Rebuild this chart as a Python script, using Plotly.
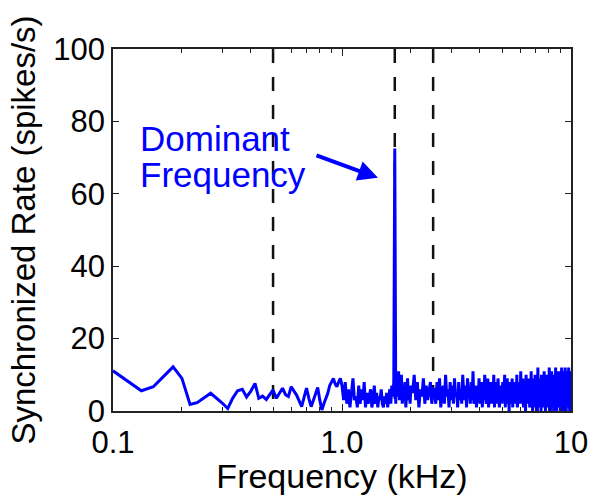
import math
import plotly.graph_objects as go

# --- spectrum data -------------------------------------------------------
# Sparse low-frequency bins (kHz) and synchronized rate (spikes/s)
low_freq_khz = [0.100, 0.133, 0.150, 0.183, 0.200, 0.217, 0.233, 0.267, 0.300, 0.317,
                0.333, 0.350, 0.367, 0.383, 0.400, 0.417, 0.433, 0.450, 0.467, 0.483]
low_rate = [11.1, 5.6, 6.7, 12.2, 9.0, 1.8, 2.3, 4.9, 2.2, 0.7,
            3.5, 5.6, 6.0, 3.9, 5.5, 7.6, 3.5, 4.1, 3.2, 4.5]

# 0.5 - 1.0 kHz, one bin every 1/60 kHz
mid_start_khz = 0.5
mid_step_khz = 1 / 60
mid_rate = [5.8, 3.5, 5.0, 6.3, 4.5, 4.0, 6.7, 5.5, 4.4, 2.8,
            1.2, 3.8, 6.3, 3.5, 1.2, 3.0, 5.0, 6.5, 3.0, 0.3,
            2.0, 3.5, 4.9, 7.0, 8.0, 9.0, 7.5, 6.7, 8.0, 9.0, 7.0]

# 1.0 - 2.0 kHz, one bin every 1/60 kHz (first bin just above 1.0 kHz)
band1_start_khz = 1.0
band1_step_khz = 1 / 60
band1_rate = [3, 8, 2, 6, 1, 5, 9, 3, 4, 1, 7, 2, 6, 3, 8, 1, 5, 2, 4, 6,
              1, 3, 7, 2, 5, 1, 4, 3, 6, 2, 1, 4, 2, 5, 1, 3, 6, 2, 7, 4, 8,
              72.5,
              2, 9, 4, 11, 3, 7, 10, 2, 6, 4, 8, 1, 5, 9, 3, 6, 2, 7]

# 2.0 - 10 kHz, one bin every 1/30 kHz (first bin just above 2.0 kHz)
band2_start_khz = 2.0
band2_step_khz = 1 / 30
band2_rate = [5, 10, 3, 8, 1, 6, 4, 9, 2, 7, 3, 5, 8, 2, 6,
              6, 2, 8, 3, 9, 1, 5, 7, 2, 10, 4, 6, 1, 8, 3,
              7, 2, 9, 4, 5, 1, 8, 3, 6, 2, 10, 5, 3, 7, 1,
              9, 4, 6, 2, 8, 3, 11, 2, 5, 7, 1, 6, 3, 9, 2,
              5, 8, 1, 7, 3, 10, 4, 2, 6, 9, 1, 5, 3, 8, 2,
              7, 4, 10, 1, 6, 3, 8, 2, 9, 5, 1, 7, 4, 6, 2,
              8, 3, 5, 10, 1, 7, 2, 9, 4, 6, 0, 8, 3, 5, 2,
              9, 1, 6, 4, 8, 2, 7, 3, 10, 1, 5, 8, 2, 6, 3,
              11, 2, 7, 4, 9, 1, 6, 3, 8, 0, 10, 4, 5, 2, 9,
              3, 7, 1, 8, 4, 11, 2, 6, 0, 9, 3, 7, 1, 10, 4,
              6, 2, 8, 0, 12, 3, 7, 1, 9, 4, 5, 0, 10, 2, 8,
              3, 6, 1, 11, 4, 9, 0, 7, 2, 10, 3, 8, 1, 6, 4,
              12, 2, 9, 0, 7, 3, 11, 1, 8, 4, 10, 0, 6, 3, 9,
              1, 12, 4, 7, 0, 10, 2, 8, 3, 11, 1, 9, 4, 6, 0,
              10, 3, 12, 1, 8, 2, 11, 0, 7, 4, 9, 1, 12, 3, 8,
              0, 10, 4, 11, 2, 9, 1, 12, 3, 7, 0, 11, 2, 10, 5]

# Reference frequencies marked with dashed lines (kHz)
marker_freqs_khz = [0.5, 1.7, 2.5]

# Axis ticks
x_tick_vals = [0.1, 1, 10]
x_tick_text = ["0.1", "1.0", "10"]
x_minor_vals = [0.2, 0.3, 0.4, 0.5, 0.6, 0.7, 0.8, 0.9, 2, 3, 4, 5, 6, 7, 8, 9]
y_tick_vals = [0, 20, 40, 60, 80, 100]

# --- assemble the frequency grid ------------------------------------------
freq_khz = list(low_freq_khz)
freq_khz += [mid_start_khz + j * mid_step_khz for j in range(len(mid_rate))]
freq_khz += [band1_start_khz + (j + 1) * band1_step_khz for j in range(len(band1_rate))]
freq_khz += [band2_start_khz + (j + 1) * band2_step_khz for j in range(len(band2_rate))]
rate = low_rate + mid_rate + band1_rate + band2_rate

FONT = "Liberation Sans, Arial, Helvetica, sans-serif"
BLUE = "#0000ff"

fig = go.Figure()

for f in marker_freqs_khz:
    fig.add_trace(go.Scatter(
        x=[f, f], y=[100, 0], mode="lines",
        line=dict(color="#111111", width=2.5, dash="14px,14px"),
        hoverinfo="skip", showlegend=False,
    ))

fig.add_trace(go.Scatter(
    x=freq_khz, y=rate, mode="lines",
    line=dict(color=BLUE, width=3),
    showlegend=False,
))

axis_common = dict(
    showline=True, linecolor="#222222", linewidth=1.5, mirror="ticks",
    ticks="inside", tickcolor="#222222", tickwidth=1.3,
    showgrid=False, zeroline=False, automargin=False,
    tickfont=dict(family=FONT, size=31, color="black"),
)

fig.update_xaxes(
    type="log", range=[-1, 1],
    tickmode="array", tickvals=x_tick_vals, ticktext=x_tick_text, ticklen=7,
    ticklabelstandoff=3,
    minor=dict(tickmode="array", tickvals=x_minor_vals, ticks="inside", ticklen=4,
               tickcolor="#222222", tickwidth=1.2),
    title=dict(text="Frequency (kHz)", font=dict(family=FONT, size=34, color="black"),
               standoff=2),
    **axis_common,
)
fig.update_yaxes(
    range=[0, 100], tickmode="array", tickvals=y_tick_vals, ticklen=6,
    title=dict(text="Synchronized Rate (spikes/s)",
               font=dict(family=FONT, size=33, color="black"), standoff=8),
    **axis_common,
)

# Label and arrow pointing at the dominant spectral peak
for text, yv in [("Dominant", 75.3), ("Frequency", 65.4)]:
    fig.add_annotation(
        x=math.log10(0.1285), y=yv, xref="x", yref="y",
        text=text, showarrow=False, xanchor="left", yanchor="middle",
        font=dict(family=FONT, size=35, color=BLUE),
    )
fig.add_annotation(
    x=math.log10(1.436), y=64.4, xref="x", yref="y",
    text="", showarrow=True, ax=-63, ay=-23,
    arrowhead=2, arrowsize=1.0, arrowwidth=4, arrowcolor=BLUE,
)

fig.update_layout(
    width=589, height=495,
    margin=dict(l=113, r=18, t=49, b=84, autoexpand=False),
    paper_bgcolor="white", plot_bgcolor="white",
    font=dict(family=FONT, color="black"),
)

fig.write_html("out.html")
